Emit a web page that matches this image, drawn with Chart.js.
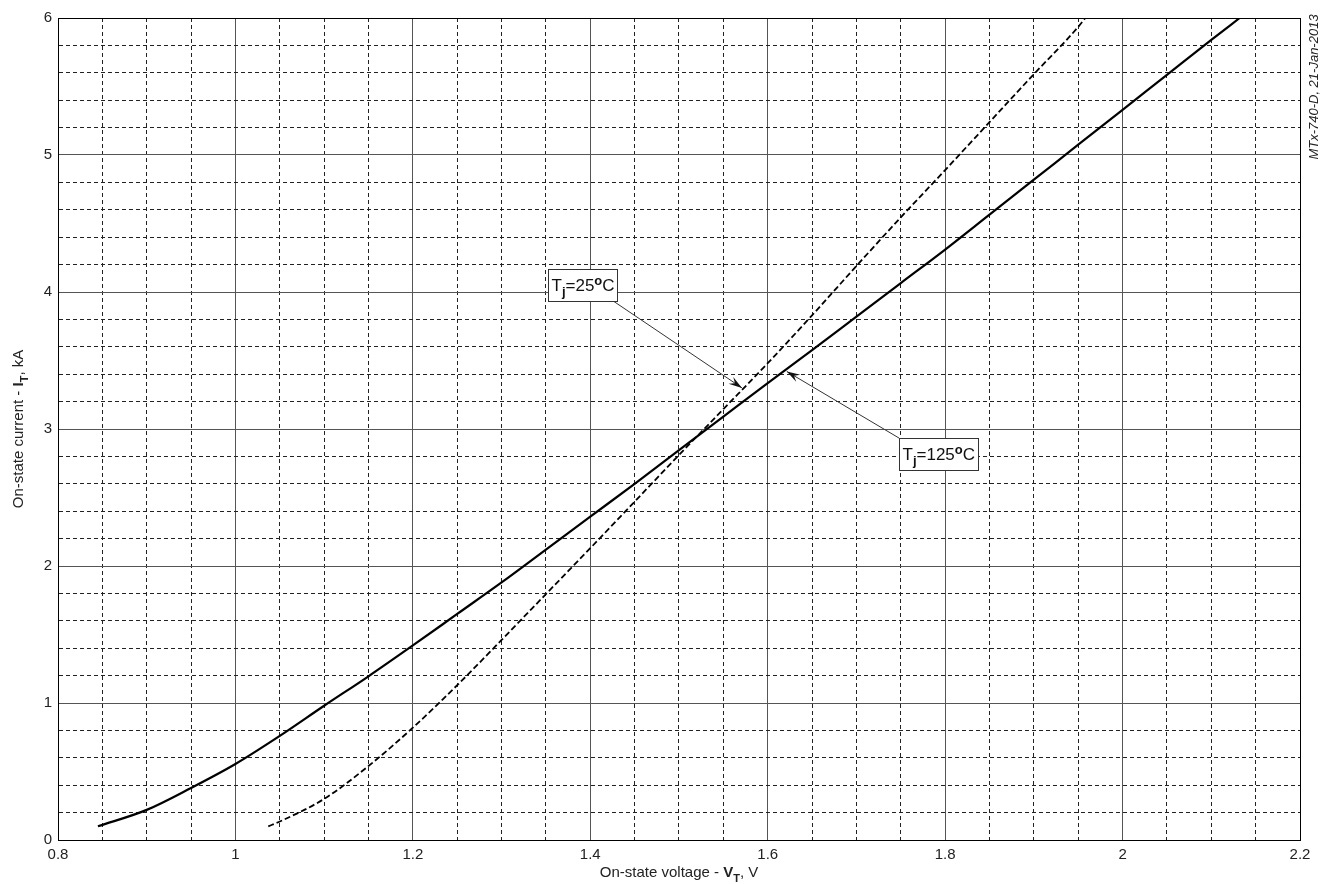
<!DOCTYPE html>
<html><head><meta charset="utf-8">
<script src="https://cdn.jsdelivr.net/npm/chart.js@4/dist/chart.umd.min.js"></script>
<style>html,body{margin:0;padding:0;background:#fff;overflow:hidden}</style>
</head><body>
<canvas id="c" width="1326" height="884" style="display:block;width:1326px;height:884px"></canvas>
<script>
// ---- data ----
const vt125 = [0.845, 0.9, 0.95, 1.0, 1.05, 1.1, 1.15, 1.2, 1.25, 1.3, 1.35, 1.4, 1.45, 1.5, 1.55, 1.6, 1.65, 1.7, 1.75, 1.8, 1.85, 1.9, 1.95, 2.0, 2.05, 2.1, 2.132];
const it125 = [0.10, 0.22, 0.38, 0.555, 0.76, 0.98, 1.195, 1.42, 1.65, 1.88, 2.12, 2.36, 2.60, 2.845, 3.09, 3.335, 3.575, 3.82, 4.065, 4.31, 4.565, 4.82, 5.075, 5.33, 5.585, 5.84, 6.0];
const vt25 = [1.037, 1.05, 1.1, 1.15, 1.2, 1.25, 1.3, 1.35, 1.4, 1.45, 1.5, 1.55, 1.6, 1.65, 1.7, 1.75, 1.8, 1.85, 1.9, 1.95, 1.958];
const it25 = [0.10, 0.135, 0.30, 0.54, 0.82, 1.13, 1.46, 1.795, 2.13, 2.47, 2.81, 3.145, 3.48, 3.83, 4.19, 4.545, 4.89, 5.24, 5.59, 5.935, 6.0];

const xTickValues = [0.8, 1.0, 1.2, 1.4, 1.6, 1.8, 2.0, 2.2];
const xTickLabels = ['0.8', '1', '1.2', '1.4', '1.6', '1.8', '2', '2.2'];
const yTickValues = [0, 1, 2, 3, 4, 5, 6];
const yTickLabels = ['0', '1', '2', '3', '4', '5', '6'];
const xMinorStep = 0.05;
const yMinorStep = 0.2;

const annLabels = [
  {temp: '25', boxX: 1.3524, boxY: 4.165, fromX: 1.4268, fromY: 3.93, toX: 1.571, toY: 3.30},
  {temp: '125', boxX: 1.748, boxY: 2.934, fromX: 1.748, fromY: 2.934, toX: 1.6215, toY: 3.42}
];
const xTitle = ['On-state voltage - ', 'V', 'T', ', V'];
const yTitle = ['On-state current - ', 'I', 'T', ', kA'];
const stampText = 'MTx-740-D, 21-Jan-2013';

// ---- helpers ----
const F = '"Liberation Sans", Arial, Helvetica, sans-serif';
function gridValues(min, max, step) {
  const out = []; const n = Math.round((max - min) / step);
  for (let i = 0; i <= n; i++) out.push(+(min + i * step).toFixed(6));
  return out;
}
const xMin = xTickValues[0], xMax = xTickValues[xTickValues.length - 1];
const yMin = yTickValues[0], yMax = yTickValues[yTickValues.length - 1];
const xGrid = gridValues(xMin, xMax, xMinorStep);
const yGrid = gridValues(yMin, yMax, yMinorStep);
function majorIndex(v, arr) { return arr.findIndex(t => Math.abs(t - v) < 1e-6); }

function drawRuns(ctx, runs, x, y, align) {
  let total = 0;
  for (const r of runs) { ctx.font = r.font; r.w = ctx.measureText(r.t).width; total += r.w; }
  let cx = align === 'center' ? x - total / 2 : x;
  ctx.textAlign = 'left'; ctx.textBaseline = 'alphabetic';
  for (const r of runs) { ctx.font = r.font; ctx.fillText(r.t, cx, y + (r.dy || 0)); cx += r.w; }
  return total;
}

const framePlugin = {
  id: 'frame',
  afterDraw(chart) {
    const {ctx, chartArea: a, scales} = chart;
    ctx.save();
    ctx.strokeStyle = '#000'; ctx.lineWidth = 1;
    ctx.strokeRect(Math.round(a.left) + 0.5, Math.round(a.top) + 0.5, Math.round(a.right - a.left), Math.round(a.bottom - a.top));
    ctx.restore();

    // annotations
    ctx.save();
    for (const an of annLabels) {
      const bx = scales.x.getPixelForValue(an.boxX), by = scales.y.getPixelForValue(an.boxY);
      const fx = scales.x.getPixelForValue(an.fromX), fy = scales.y.getPixelForValue(an.fromY);
      const tx = scales.x.getPixelForValue(an.toX), ty = scales.y.getPixelForValue(an.toY);
      ctx.strokeStyle = '#333'; ctx.lineWidth = 1;
      ctx.beginPath(); ctx.moveTo(fx, fy); ctx.lineTo(tx, ty); ctx.stroke();
      const ang = Math.atan2(ty - fy, tx - fx);
      const L = 14, sp = 0.3;
      ctx.fillStyle = '#111';
      ctx.beginPath();
      ctx.moveTo(tx, ty);
      ctx.lineTo(tx - L * Math.cos(ang - sp), ty - L * Math.sin(ang - sp));
      ctx.lineTo(tx - 0.6 * L * Math.cos(ang), ty - 0.6 * L * Math.sin(ang));
      ctx.lineTo(tx - L * Math.cos(ang + sp), ty - L * Math.sin(ang + sp));
      ctx.closePath(); ctx.fill();
      const runs = [
        {t: 'T', font: '17px ' + F},
        {t: 'j', font: 'bold 13px ' + F, dy: 5},
        {t: '=' + an.temp, font: '17px ' + F},
        {t: 'o', font: 'bold 13px ' + F, dy: -6},
        {t: 'C', font: '17px ' + F}
      ];
      let w = 0; for (const r of runs) { ctx.font = r.font; w += ctx.measureText(r.t).width; }
      const bw = Math.round(w + 6), bh = 32;
      const lx = Math.round(bx) + 0.5, ly = Math.round(by) + 0.5;
      ctx.fillStyle = '#fff'; ctx.fillRect(lx, ly, bw, bh);
      ctx.strokeStyle = '#333'; ctx.strokeRect(lx, ly, bw, bh);
      ctx.fillStyle = '#111';
      drawRuns(ctx, runs, lx + 3, ly + 21, 'left');
    }
    ctx.restore();

    // axis titles
    ctx.save();
    ctx.fillStyle = '#222';
    const cxm = (a.left + a.right) / 2;
    drawRuns(ctx, [
      {t: xTitle[0], font: '15px ' + F},
      {t: xTitle[1], font: 'bold 15px ' + F},
      {t: xTitle[2], font: 'bold 11px ' + F, dy: 5},
      {t: xTitle[3], font: '15px ' + F}
    ], cxm, 877, 'center');
    const cym = (a.top + a.bottom) / 2;
    ctx.translate(23, cym); ctx.rotate(-Math.PI / 2);
    drawRuns(ctx, [
      {t: yTitle[0], font: '15px ' + F},
      {t: yTitle[1], font: 'bold 15px ' + F},
      {t: yTitle[2], font: 'bold 11px ' + F, dy: 5},
      {t: yTitle[3], font: '15px ' + F}
    ], 0, 0, 'center');
    ctx.restore();

    // stamp
    ctx.save();
    ctx.fillStyle = '#222';
    ctx.translate(1318, 87); ctx.rotate(-Math.PI / 2);
    ctx.font = 'italic 13px ' + F; ctx.textAlign = 'center'; ctx.textBaseline = 'alphabetic';
    ctx.fillText(stampText, 0, 0);
    ctx.restore();
  }
};

const gridColor = (arr) => (ctx) => (ctx.tick && majorIndex(ctx.tick.value, arr) >= 0) ? '#555' : '#222';
const gridDash = (arr) => (ctx) => (!ctx.tick || majorIndex(ctx.tick.value, arr) >= 0) ? [] : [4, 3];

new Chart(document.getElementById('c'), {
  type: 'scatter',
  data: {
    datasets: [
      {label: 'Tj=125°C', data: vt125.map((x, i) => ({x, y: it125[i]})), showLine: true, borderColor: '#000', borderWidth: 2.2, pointRadius: 0, cubicInterpolationMode: 'monotone', fill: false},
      {label: 'Tj=25°C', data: vt25.map((x, i) => ({x, y: it25[i]})), showLine: true, borderColor: '#000', borderWidth: 1.8, borderDash: [6, 3], pointRadius: 0, cubicInterpolationMode: 'monotone', fill: false}
    ]
  },
  options: {
    responsive: false, animation: false, devicePixelRatio: 1,
    layout: {padding: {top: 18, right: 26, left: 0, bottom: 0}},
    plugins: {legend: {display: false}, tooltip: {enabled: false}},
    scales: {
      x: {
        type: 'linear', min: xMin, max: xMax,
        afterBuildTicks: s => { s.ticks = xGrid.map(v => ({value: v})); },
        afterFit: s => { s.height = 44; },
        ticks: {autoSkip: false, maxRotation: 0, minRotation: 0, padding: 6, color: '#222', font: {family: F, size: 15},
          callback: v => { const i = majorIndex(v, xTickValues); return i >= 0 ? xTickLabels[i] : ''; }},
        grid: {drawTicks: false, color: gridColor(xTickValues), lineWidth: 1},
        border: {display: true, color: '#000', width: 1, dash: gridDash(xTickValues)}
      },
      y: {
        type: 'linear', min: yMin, max: yMax,
        afterBuildTicks: s => { s.ticks = yGrid.map(v => ({value: v})); },
        afterFit: s => { s.width = 58; },
        ticks: {autoSkip: false, padding: 6, color: '#222', font: {family: F, size: 15},
          callback: v => { const i = majorIndex(v, yTickValues); return i >= 0 ? yTickLabels[i] : ''; }},
        grid: {drawTicks: false, color: gridColor(yTickValues), lineWidth: 1},
        border: {display: true, color: '#000', width: 1, dash: gridDash(yTickValues)}
      }
    }
  },
  plugins: [framePlugin]
});
</script>
</body></html>
